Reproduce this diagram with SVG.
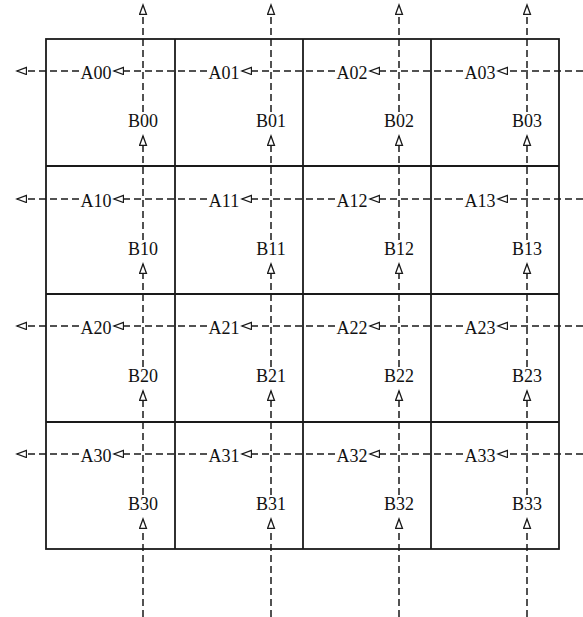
<svg xmlns="http://www.w3.org/2000/svg" width="583" height="617" viewBox="0 0 583 617">
<style>
.grid{fill:none;stroke:#1a1a1a;stroke-width:1.8}
.dash{fill:none;stroke:#1a1a1a;stroke-width:1.5;stroke-dasharray:7 4}
.lbl{font-family:"Liberation Serif","Times New Roman",serif;font-size:18px;fill:#111;text-anchor:middle}
</style>
<defs>
<marker id="ah" markerUnits="userSpaceOnUse" markerWidth="14" markerHeight="10" refX="10" refY="4" orient="auto">
<path d="M0.5,0.5 L10,4 L0.5,7.5 Z" fill="#fff" stroke="#1a1a1a" stroke-width="1.3" stroke-dasharray="none"/>
</marker>
</defs>
<rect width="583" height="617" fill="#fff"/>
<g id="grid" class="grid">
<rect x="46" y="39" width="513" height="510"/>
<line x1="175" y1="39" x2="175" y2="549"/>
<line x1="303" y1="39" x2="303" y2="549"/>
<line x1="431" y1="39" x2="431" y2="549"/>
<line x1="46" y1="166" x2="559" y2="166"/>
<line x1="46" y1="294" x2="559" y2="294"/>
<line x1="46" y1="422" x2="559" y2="422"/>
</g>
<g id="connectors" class="dash" marker-end="url(#ah)">
<path d="M583,71 H498"/><path d="M463,71 H370"/><path d="M335,71 H242"/><path d="M207,71 H114"/><path d="M79,71 H17"/>
<path d="M583,199 H498"/><path d="M463,199 H370"/><path d="M335,199 H242"/><path d="M207,199 H114"/><path d="M79,199 H17"/>
<path d="M583,326 H498"/><path d="M463,326 H370"/><path d="M335,326 H242"/><path d="M207,326 H114"/><path d="M79,326 H17"/>
<path d="M583,454 H498"/><path d="M463,454 H370"/><path d="M335,454 H242"/><path d="M207,454 H114"/><path d="M79,454 H17"/>
<path d="M143,617 V519"/><path d="M143,495 V391"/><path d="M143,367 V264"/><path d="M143,240 V136"/><path d="M143,112 V5"/>
<path d="M271,617 V519"/><path d="M271,495 V391"/><path d="M271,367 V264"/><path d="M271,240 V136"/><path d="M271,112 V5"/>
<path d="M399,617 V519"/><path d="M399,495 V391"/><path d="M399,367 V264"/><path d="M399,240 V136"/><path d="M399,112 V5"/>
<path d="M527,617 V519"/><path d="M527,495 V391"/><path d="M527,367 V264"/><path d="M527,240 V136"/><path d="M527,112 V5"/>
</g>
<g class="lbl">
<g id="A00"><text x="96" y="79">A00</text></g>
<g id="A01"><text x="224" y="79">A01</text></g>
<g id="A02"><text x="352" y="79">A02</text></g>
<g id="A03"><text x="480" y="79">A03</text></g>
<g id="A10"><text x="96" y="207">A10</text></g>
<g id="A11"><text x="224" y="207">A11</text></g>
<g id="A12"><text x="352" y="207">A12</text></g>
<g id="A13"><text x="480" y="207">A13</text></g>
<g id="A20"><text x="96" y="334">A20</text></g>
<g id="A21"><text x="224" y="334">A21</text></g>
<g id="A22"><text x="352" y="334">A22</text></g>
<g id="A23"><text x="480" y="334">A23</text></g>
<g id="A30"><text x="96" y="462">A30</text></g>
<g id="A31"><text x="224" y="462">A31</text></g>
<g id="A32"><text x="352" y="462">A32</text></g>
<g id="A33"><text x="480" y="462">A33</text></g>
<g id="B00"><text x="143" y="127">B00</text></g>
<g id="B01"><text x="271" y="127">B01</text></g>
<g id="B02"><text x="399" y="127">B02</text></g>
<g id="B03"><text x="527" y="127">B03</text></g>
<g id="B10"><text x="143" y="255">B10</text></g>
<g id="B11"><text x="271" y="255">B11</text></g>
<g id="B12"><text x="399" y="255">B12</text></g>
<g id="B13"><text x="527" y="255">B13</text></g>
<g id="B20"><text x="143" y="382">B20</text></g>
<g id="B21"><text x="271" y="382">B21</text></g>
<g id="B22"><text x="399" y="382">B22</text></g>
<g id="B23"><text x="527" y="382">B23</text></g>
<g id="B30"><text x="143" y="510">B30</text></g>
<g id="B31"><text x="271" y="510">B31</text></g>
<g id="B32"><text x="399" y="510">B32</text></g>
<g id="B33"><text x="527" y="510">B33</text></g>
</g>
</svg>
